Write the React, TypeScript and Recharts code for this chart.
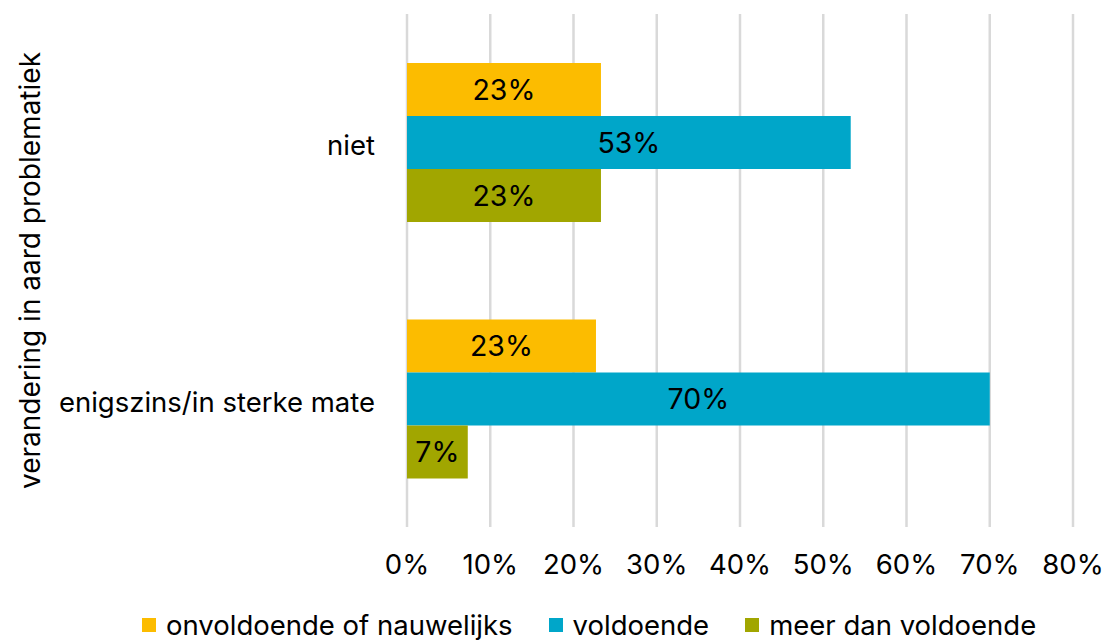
import React from 'react';
import { BarChart, Bar, XAxis, YAxis, CartesianGrid, Legend, LabelList } from 'recharts';

const categories = ['niet', 'enigszins/in sterke mate'];
const onvoldoende = [0.233, 0.227];
const voldoende = [0.533, 0.70];
const meerDan = [0.233, 0.073];
const xTicks = [0, 0.1, 0.2, 0.3, 0.4, 0.5, 0.6, 0.7, 0.8];

const seriesNames = ['onvoldoende of nauwelijks', 'voldoende', 'meer dan voldoende'];
const colors = ['#FCBC00', '#00A6C9', '#A1A600'];

const data = categories.map((c, i) => ({
  cat: c,
  s0: onvoldoende[i],
  s1: voldoende[i],
  s2: meerDan[i],
}));

const FONT = 'Inter, "Noto Sans", sans-serif';
const pct = (v: number) => `${Math.round(v * 100)}%`;

const LegendContent = () => (
  <div style={{ display: 'flex', alignItems: 'center', paddingLeft: 142, paddingTop: 18, fontFamily: FONT, fontSize: 27.5, color: '#000' }}>
    {seriesNames.map((n, i) => (
      <div key={n} style={{ display: 'flex', alignItems: 'center', marginRight: 36 }}>
        <span style={{ display: 'inline-block', width: 14, height: 14, background: colors[i], marginRight: 10 }} />
        <span>{n}</span>
      </div>
    ))}
  </div>
);

const YLabel = (props: any) => {
  const vb = props.viewBox || {};
  const cy = vb.y + vb.height / 2;
  return (
    <text x={30} y={cy} transform={`rotate(-90, 30, ${cy})`} textAnchor="middle" dominantBaseline="central" fontSize={28} fontFamily={FONT} fill="#000">
      verandering in aard problematiek
    </text>
  );
};

export default function App() {
  return (
    <div style={{ position: 'absolute', left: 0, top: 0, background: '#fff' }}>
      <BarChart
        width={1109}
        height={640}
        data={data}
        layout="vertical"
        margin={{ top: 14, right: 36, left: 0, bottom: 0 }}
        barGap={0}
        barSize={53}
      >
        <CartesianGrid horizontal={false} stroke="#D9D9D9" strokeWidth={2.5} />
        <XAxis
          type="number"
          domain={[0, 0.8]}
          ticks={xTicks}
          tickFormatter={pct}
          axisLine={false}
          tickLine={false}
          tickSize={0}
          tickMargin={27}
          height={63}
          interval={0}
          tick={{ fontSize: 27.5, fontFamily: FONT, fill: '#000' }}
        />
        <YAxis
          type="category"
          dataKey="cat"
          width={407}
          axisLine={false}
          tickLine={false}
          tickSize={0}
          tickMargin={32}
          tick={{ fontSize: 27.5, fontFamily: FONT, fill: '#000', dy: 3 }}
          label={<YLabel />}
        />
        <Legend verticalAlign="bottom" height={50} content={<LegendContent />} />
        {['s0', 's1', 's2'].map((k, i) => (
          <Bar key={k} dataKey={k} name={seriesNames[i]} fill={colors[i]} isAnimationActive={false}>
            <LabelList dataKey={k} position="center" formatter={pct} fill="#000" fontSize={28.5} fontFamily={FONT} />
          </Bar>
        ))}
      </BarChart>
    </div>
  );
}
